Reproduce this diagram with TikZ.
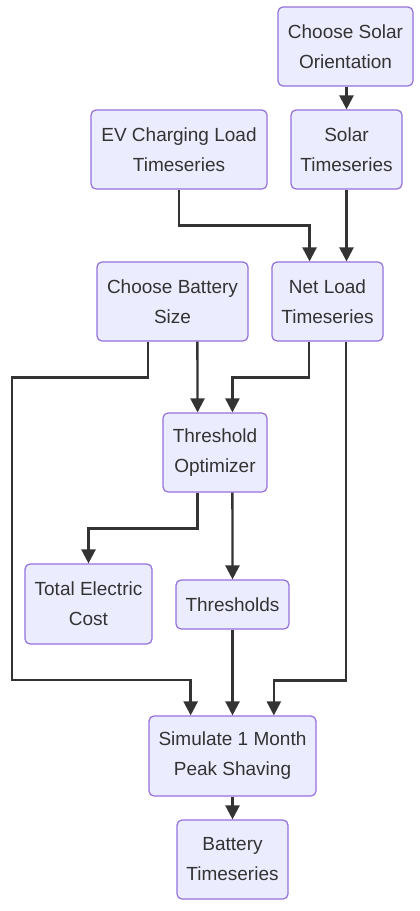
\documentclass[tikz,border=0pt]{standalone}
\usepackage{fontspec}
\setmainfont{Liberation Sans}
\usetikzlibrary{arrows.meta}
\definecolor{boxfill}{HTML}{ECECFF}
\definecolor{boxline}{HTML}{9370DB}
\definecolor{ink}{HTML}{333333}
\tikzset{
  box/.style={draw=boxline, fill=boxfill, line width=1.2bp, rounded corners=5bp,
    align=center, text=ink, inner sep=0pt,
    font=\fontsize{19bp}{30bp}\selectfont},
  arr/.style={draw=ink, line width=2.4bp,
    -{Triangle[length=14bp,width=14bp]}}
}
\begin{document}
\begin{tikzpicture}[x=1bp,y=-1bp]
\useasboundingbox (0,0) rectangle (419,911);
\node[box, minimum width=135bp, minimum height=79bp] (orient) at (345.5,46.5) {Choose Solar\\Orientation};
\node[box, minimum width=176bp, minimum height=79bp] (ev) at (179,149.5) {EV Charging Load\\Timeseries};
\node[box, minimum width=111bp, minimum height=79bp] (solarts) at (346.5,149.5) {Solar\\Timeseries};
\node[box, minimum width=151bp, minimum height=79bp] (batt) at (172.5,301.5) {Choose Battery\\Size};
\node[box, minimum width=111bp, minimum height=79bp] (netload) at (327.5,301.5) {Net Load\\Timeseries};
\node[box, minimum width=104bp, minimum height=79bp] (thropt) at (215,452.5) {Threshold\\Optimizer};
\node[box, minimum width=127bp, minimum height=80bp] (cost) at (88.5,604) {Total Electric\\Cost};
\node[box, minimum width=113bp, minimum height=49bp] (thr) at (232.5,604.5) {Thresholds};
\node[box, minimum width=167bp, minimum height=80bp] (sim) at (232.5,756) {Simulate 1 Month\\Peak Shaving};
\node[box, minimum width=111bp, minimum height=79bp] (battts) at (232.5,859.5) {Battery\\Timeseries};
\coordinate (lft) at (12,680);
\draw[arr] (orient.south -| solarts.north) -- (solarts.north);
\draw[arr] (ev.south) -- ++(0,36) -| ([xshift=-18]netload.north);
\draw[arr] (solarts.south) -- (solarts.south |- netload.north);
\draw[arr] ([xshift=25]batt.south) -- ([xshift=-17.5]thropt.north);
\draw[arr] ([xshift=-24.5]batt.south) -- ++(0,36) -| (lft) -| ([xshift=-42]sim.north);
\draw[arr] ([xshift=-18.5]netload.south) -- ++(0,36) -| ([xshift=17.5]thropt.north);
\draw[arr] ([xshift=18.5]netload.south) -- ++(0,339) -| ([xshift=41.5]sim.north);
\draw[arr] ([xshift=-17.5]thropt.south) -- ++(0,36) -| (cost.north);
\draw[arr] ([xshift=17.5]thropt.south) -- (thr.north);
\draw[arr] (thr.south) -- (sim.north);
\draw[arr] (sim.south) -- (battts.north);
\end{tikzpicture}
\end{document}
